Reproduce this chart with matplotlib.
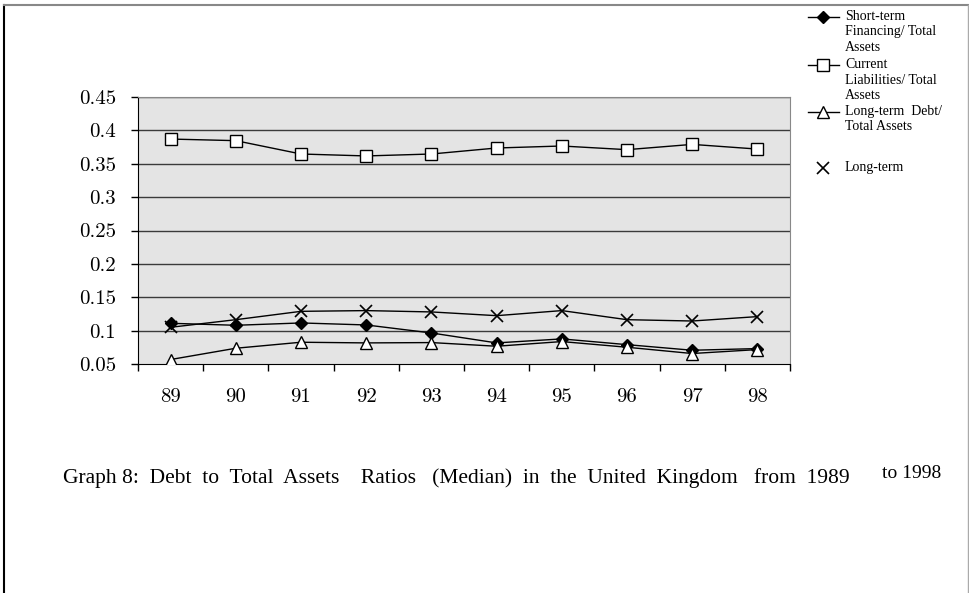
import matplotlib.pyplot as plt
from matplotlib.lines import Line2D
from matplotlib.ticker import FixedLocator

# data (medians, UK, 1989-1998)
years = ['89', '90', '91', '92', '93', '94', '95', '96', '97', '98']
short_fin = [0.111, 0.108, 0.1115, 0.1085, 0.0965, 0.0816, 0.0876, 0.079, 0.0706, 0.0731]
curr_liab = [0.387, 0.3846, 0.3646, 0.3617, 0.3646, 0.3736, 0.3766, 0.3711, 0.379, 0.372]
lt_debt = [0.0567, 0.0736, 0.0826, 0.0816, 0.0821, 0.0766, 0.0836, 0.0751, 0.0657, 0.0716]
long_term = [0.105, 0.1164, 0.1289, 0.130, 0.128, 0.1224, 0.130, 0.1164, 0.1144, 0.121]
yticks = [0.05, 0.1, 0.15, 0.2, 0.25, 0.3, 0.35, 0.4, 0.45]
ytick_labels = ['0.05', '0.1', '0.15', '0.2', '0.25', '0.3', '0.35', '0.4', '0.45']

labels = ['Short-term\nFinancing/ Total\nAssets',
          'Current\nLiabilities/ Total\nAssets',
          'Long-term  Debt/\nTotal Assets',
          'Long-term']
caption = 'Graph 8:  Debt  to  Total  Assets    Ratios   (Median)  in  the  United  Kingdom   from  1989'
caption_end = 'to 1998'

W, H = 970, 593
fig = plt.figure(figsize=(W / 100, H / 100), dpi=100)
ax = fig.add_axes([138 / W, 1 - 364 / H, 652 / W, 267 / H])
ax.set_facecolor('#e4e4e4')

x = list(range(len(years)))
ax.plot(x, short_fin, color='black', lw=1, marker='D', ms=6, mfc='black', mec='black', zorder=3)
ax.plot(x, curr_liab, color='black', lw=1, marker='s', ms=8, mfc='white', mec='black', mew=1, zorder=3)
ax.plot(x, long_term, color='black', lw=1, marker='x', ms=8, mec='black', mew=1.2, zorder=3)
ax.plot(x, lt_debt, color='black', lw=1, marker='^', ms=8, mfc='white', mec='black', mew=1, zorder=4)

ax.set_xlim(-0.5, len(years) - 0.5)
ax.set_ylim(0.05, 0.45)
ax.set_yticks(yticks)
ax.set_yticklabels(ytick_labels)
for yv in yticks[1:]:
    ax.axhline(yv, color='#3a3a3a', lw=1, zorder=1)

ax.set_xticks(x)
ax.set_xticklabels(years)
ax.xaxis.set_minor_locator(FixedLocator([i - 0.5 for i in range(len(years) + 1)]))
ax.tick_params(axis='x', which='major', length=0, pad=17)
ax.tick_params(axis='x', which='minor', length=5, width=1, direction='out', color='black')
ax.tick_params(axis='y', length=5, width=1, direction='out', pad=11)
for lab in ax.get_xticklabels() + ax.get_yticklabels():
    lab.set_family('cmr10')
    lab.set_fontsize(15)

ax.spines['left'].set_color('black')
ax.spines['bottom'].set_color('black')
ax.spines['top'].set_color('#888888')
ax.spines['right'].set_color('#888888')

# hand-made legend in the top right corner
styles = [('D', 'black', True, 6), ('s', 'white', True, 8), ('^', 'white', True, 8), ('x', 'black', False, 8)]
rows = [17, 65, 112, 168]
for (mk, fc, has_line, ms), lab, yy in zip(styles, labels, rows):
    fy = 1 - yy / H
    if has_line:
        fig.add_artist(Line2D([808 / W, 839 / W], [fy, fy], color='black', lw=1))
    fig.add_artist(Line2D([823 / W], [fy], marker=mk, ms=ms, mfc=fc, mec='black',
                          mew=1.2 if mk == 'x' else 1, color='black'))
    fig.text(845 / W, fy + 7 / H, lab, ha='left', va='top', fontsize=10, family='Liberation Serif',
             linespacing=1.25)

fig.text(63 / W, 1 - 478 / H, caption, ha='left', va='center', fontsize=15.5, family='Liberation Serif')
fig.text(882 / W, 1 - 474 / H, caption_end, ha='left', va='center', fontsize=14, family='Liberation Serif')

# page border
fig.add_artist(Line2D([4 / W, 4 / W], [0, 1 - 5 / H], color='black', lw=1.5))
fig.add_artist(Line2D([4 / W, 968 / W], [1 - 5 / H, 1 - 5 / H], color='#888888', lw=1.5))
fig.add_artist(Line2D([968 / W, 968 / W], [0, 1 - 5 / H], color='#aaaaaa', lw=1))

fig.savefig('out.png', dpi=100)
